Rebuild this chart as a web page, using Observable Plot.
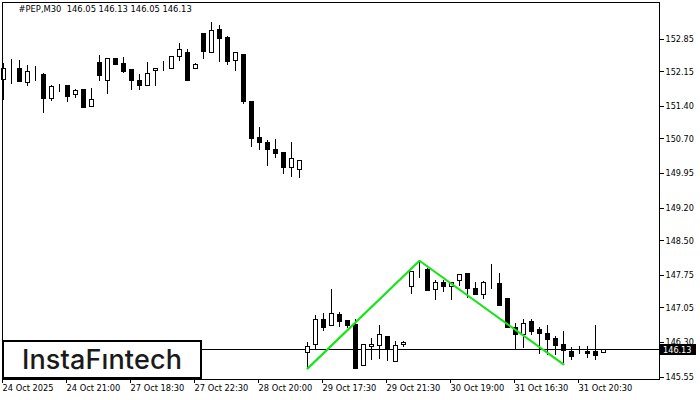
<!DOCTYPE html>
<html>
<head>
<meta charset="utf-8">
<script src="https://cdn.jsdelivr.net/npm/d3@7"></script>
<script src="https://cdn.jsdelivr.net/npm/@observablehq/plot@0.6"></script>
<style>
html,body{margin:0;padding:0;background:#fff;width:700px;height:400px;overflow:hidden}
#chart{position:relative;width:700px;height:400px}
#logo{position:absolute;left:2px;top:340px;width:196px;height:35px;border:2px solid #000;background:#fff;
font:500 27px/35px Inter,Lato,sans-serif;color:#1a1a1a;text-align:center;letter-spacing:0.15px}
</style>
</head>
<body>
<div id="chart"><div id="logo">InstaFıntech</div></div>
<script>
const opens = [151.95,152.20,152.20,151.90,152.12,152.07,151.55,151.77,151.83,151.64,151.73,151.38,152.33,151.94,152.40,152.31,152.16,151.94,151.83,152.14,152.17,152.20,152.46,152.53,152.20,152.94,152.53,153.04,152.87,152.37,152.50,151.47,150.71,150.60,150.45,150.37,150.06,150.02,146.05,146.22,146.78,146.63,146.87,146.74,146.67,145.77,146.18,146.20,146.41,145.87,146.22,147.49,147.86,147.86,147.41,147.56,147.49,147.62,147.77,147.45,147.30,147.54,147.54,147.23,146.59,146.44,146.72,146.56,146.46,146.35,146.24,146.07,146.03,146.07,146.07,146.05];
const highs = [152.31,152.40,152.37,152.27,152.25,152.09,151.83,151.86,151.83,151.75,151.75,151.77,152.48,152.40,152.42,152.44,152.16,152.07,152.33,152.20,152.35,152.46,152.74,152.61,152.31,152.94,153.19,153.13,152.89,152.55,152.50,151.47,150.93,150.65,150.67,150.37,150.60,150.21,146.28,146.87,146.91,147.43,146.93,146.76,146.78,146.24,146.37,146.65,146.41,146.31,146.31,147.80,148.05,147.88,147.62,147.62,147.58,147.75,147.77,147.58,147.60,147.97,147.77,147.23,146.69,146.78,146.78,146.61,146.65,146.41,146.52,146.18,146.20,146.20,146.65,146.13];
const lows = [151.51,151.86,151.92,151.81,151.92,151.23,151.49,151.68,151.47,151.55,151.34,151.36,151.92,151.64,152.27,152.09,151.73,151.73,151.81,151.81,152.14,152.18,152.35,151.94,152.20,152.40,152.53,152.33,152.27,152.14,151.42,150.50,150.43,150.09,150.26,149.91,149.85,149.83,145.72,146.13,146.52,146.63,146.61,146.59,145.72,145.77,145.90,145.92,145.87,145.87,146.18,147.32,147.67,147.39,147.19,147.36,147.19,147.49,147.23,147.30,147.21,147.43,147.06,146.59,146.11,146.15,146.44,146.03,146.00,146.00,145.83,145.90,146.03,145.94,145.90,146.05];
const closes = [152.19,152.20,151.92,152.12,152.12,151.55,151.81,151.77,151.58,151.71,151.34,151.53,152.05,152.40,152.27,152.12,151.94,151.83,152.09,152.20,152.17,152.46,152.61,151.94,152.27,152.55,153.02,152.85,152.35,152.53,151.47,150.67,150.60,150.45,150.35,150.06,150.24,150.21,146.18,146.76,146.59,146.89,146.72,146.63,145.72,146.22,146.24,146.44,146.15,146.20,146.28,147.80,147.86,147.39,147.56,147.49,147.58,147.75,147.45,147.30,147.56,147.54,147.08,146.59,146.44,146.69,146.52,146.46,146.33,146.20,146.09,145.98,146.03,146.03,146.00,146.13];

const patternBars = [38,52,70];
const patternPrices = [145.72,148.05,145.81];

const xTickBars = [0,8,16,24,32,40,48,56,64,72];
const xTickLabels = ["24 Oct 2025","24 Oct 21:00","27 Oct 18:30","27 Oct 22:30","28 Oct 20:00","29 Oct 17:30","29 Oct 21:30","30 Oct 19:00","31 Oct 16:30","31 Oct 20:30"];
const yTicks = [152.85,152.15,151.40,150.70,149.95,149.20,148.50,147.75,147.05,146.30,145.55];
const lastPrice = 146.13;
const header = "#PEP,M30  146.05 146.13 146.05 146.13";

const bars = opens.map((o,i)=>({i,o,h:highs[i],l:lows[i],c:closes[i],up:closes[i]>o}));
const xMax = 82, xMin = -0.125;
const font = "DejaVu Sans Condensed, DejaVu Sans, sans-serif";
const fs = 9;

const plot = Plot.plot({
  width:700, height:400,
  marginLeft:2, marginRight:41, marginTop:2, marginBottom:21,
  style:{fontFamily:font,fontSize:fs+"px",background:"transparent",color:"#000"},
  x:{domain:[xMin,xMax],axis:null},
  y:{domain:[145.485,153.628],axis:null},
  marks:[
    Plot.ruleY([lastPrice],{stroke:"#000",strokeWidth:1,shapeRendering:"crispEdges"}),
    Plot.ruleX(bars,{x:"i",y1:"l",y2:"h",stroke:"#000",strokeWidth:1,shapeRendering:"crispEdges"}),
    Plot.rect(bars,{x1:d=>d.i-0.25,x2:d=>d.i+0.25,y1:"o",y2:"c",fill:d=>d.up?"#fff":"#000",stroke:"#000",strokeWidth:1,shapeRendering:"crispEdges"}),
    Plot.line(patternBars.map((b,k)=>({b,p:patternPrices[k]})),{x:"b",y:"p",stroke:"#14e614",strokeWidth:2.1}),
    Plot.frame({stroke:"#000",strokeWidth:1,shapeRendering:"crispEdges"}),
    Plot.axisX({anchor:"bottom",ticks:xTickBars,tickSize:4,tickPadding:1,label:null,
      tickFormat:d=>xTickLabels[xTickBars.indexOf(d)],textAnchor:"start",dx:-1,fontSize:9.2,fontFamily:font,stroke:"#000",shapeRendering:"crispEdges"}),
    Plot.axisY({anchor:"right",ticks:yTicks,tickSize:4,tickPadding:2,label:null,dy:0.8,
      tickFormat:d=>d.toFixed(2),fontSize:fs,fontFamily:font,stroke:"#000",shapeRendering:"crispEdges"}),
    Plot.rect([lastPrice],{x1:xMax+0.15,x2:xMax+4.65,y1:d=>d-0.12,y2:d=>d+0.115,fill:"#000",shapeRendering:"crispEdges"}),
    Plot.text([lastPrice],{x:xMax+0.45,y:d=>d,text:d=>d.toFixed(2),fill:"#fff",textAnchor:"start",fontSize:fs,fontFamily:font}),
    Plot.text([header],{frameAnchor:"top-left",dx:16,dy:3,text:d=>d,fill:"#000",fontSize:9.3,fontFamily:font,textAnchor:"start"})
  ]
});
plot.style.position="absolute";plot.style.left="0";plot.style.top="0";
const c=document.getElementById("chart");
c.insertBefore(plot,c.firstChild);
</script>
</body>
</html>
